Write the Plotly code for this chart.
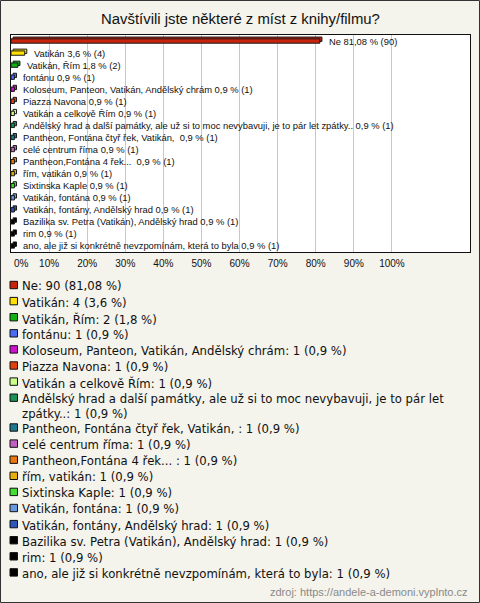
import plotly.graph_objects as go

title = "Navštívili jste některé z míst z knihy/filmu?"
categories = [
    "Ne",
    "Vatikán",
    "Vatikán, Řím",
    "fontánu",
    "Koloseum, Panteon, Vatikán, Andělský chrám",
    "Piazza Navona",
    "Vatikán a celkově Řím",
    "Andělský hrad a další památky, ale už si to moc nevybavuji, je to pár let zpátky..",
    "Pantheon, Fontána čtyř řek, Vatikán, ",
    "celé centrum říma",
    "Pantheon,Fontána 4 řek... ",
    "řím, vatikán",
    "Sixtinska Kaple",
    "Vatikán, fontána",
    "Vatikán, fontány, Andělský hrad",
    "Bazilika sv. Petra (Vatikán), Andělský hrad",
    "rim",
    "ano, ale již si konkrétně nevzpomínám, která to byla",
]
counts = [90, 4, 2] + [1] * 15
percents = [81.08, 3.6, 1.8] + [0.9] * 15
colors = [
    "#C8240C", "#FFE000", "#12B012", "#4A6CF2", "#CC14CC", "#E0400E",
    "#CCFF88", "#189258", "#1E7890", "#C060C0", "#E8780E", "#E8B00E",
    "#44DD33", "#6699DD", "#2E58B8", "#000000", "#000000", "#000000",
]
tick_values = [0, 10, 20, 30, 40, 50, 60, 70, 80, 90, 100]
tick_labels = [f"{v}%" for v in tick_values]
source = "zdroj: https://andele-a-demoni.vyplnto.cz"

W, H = 480, 603
ML, MR, MT, MB = 11, 10, 35, 351
PW, PH = W - ML - MR, H - MT - MB

def fmt(p):
    return str(p).replace(".", ",")

n = len(categories)
ypos = list(range(n))
BW = 0.36

fig = go.Figure()
# depth (3D look): a copy of each bar, nudged up and right, drawn behind
fig.add_trace(go.Bar(
    x=percents, y=ypos, orientation="h", width=BW, base=0.55,
    offset=-BW / 2 - 0.15,
    marker=dict(color=colors, line=dict(color="#1a1a1a", width=1)),
    hoverinfo="skip", showlegend=False,
))
fig.add_trace(go.Bar(
    x=percents, y=ypos, orientation="h", width=BW,
    offset=-BW / 2,
    marker=dict(color=colors, line=dict(color="#1a1a1a", width=1)),
    hoverinfo="skip", showlegend=False,
))

annotations = []
for i, (c, p, k) in enumerate(zip(categories, percents, counts)):
    annotations.append(dict(
        x=p, y=i, xref="x", yref="y", xanchor="left", yanchor="middle",
        xshift=7, showarrow=False,
        text=f"{c} {fmt(p)} % ({k})",
        font=dict(family="Liberation Sans, Arial, sans-serif", size=9.4, color="#111"),
    ))

def px_to_paper_y(py):
    return 1 - (py - MT) / PH

def px_to_paper_x(px):
    return (px - ML) / PW

tick_font = dict(family="Liberation Sans, Arial, sans-serif", size=10, color="#111")
# the first tick label sits just right of the axis start, like the original
annotations.append(dict(
    x=tick_values[0], y=px_to_paper_y(263.5), xref="x", yref="paper",
    xanchor="left", yanchor="middle", xshift=1, showarrow=False,
    text=tick_labels[0], font=tick_font,
))
shown_ticks = [""] + tick_labels[1:]

shapes = []
y = 285.0
step = 16.1
wrap = 13.7
for c, p, k, col in zip(categories, percents, counts, colors):
    label = f"{c}: {k} ({fmt(p)} %)"
    lines = 1
    if len(label) > 70:
        words = label.split(" ")
        first, rest = [], []
        for w_ in words:
            if len(" ".join(first + [w_])) <= 73 and not rest:
                first.append(w_)
            else:
                rest.append(w_)
        label = " ".join(first) + "<br>" + " ".join(rest)
        lines = 2
    shapes.append(dict(
        type="rect", xref="paper", yref="paper",
        x0=px_to_paper_x(10), x1=px_to_paper_x(17.5),
        y0=px_to_paper_y(y - 3.7), y1=px_to_paper_y(y + 3.7),
        fillcolor=col, line=dict(color="#111", width=1),
    ))
    annotations.append(dict(
        x=px_to_paper_x(20), y=px_to_paper_y(y - 7.6), xref="paper", yref="paper",
        xanchor="left", yanchor="top", showarrow=False, align="left",
        text=label,
        font=dict(family="DejaVu Sans, sans-serif", size=11.7, color="#111"),
    ))
    y += step + (wrap if lines == 2 else 0)

annotations.append(dict(
    x=px_to_paper_x(470), y=px_to_paper_y(591.5), xref="paper", yref="paper",
    xanchor="right", yanchor="middle", showarrow=False, text=source,
    font=dict(family="Liberation Sans, Arial, sans-serif", size=11, color="#8a8a8a"),
))
annotations.append(dict(
    x=px_to_paper_x(240), y=px_to_paper_y(19), xref="paper", yref="paper",
    xanchor="center", yanchor="middle", showarrow=False, text=title,
    font=dict(family="Liberation Sans, Arial, sans-serif", size=14.9, color="#111"),
))

shapes.append(dict(
    type="rect", xref="paper", yref="paper",
    x0=px_to_paper_x(0.5), x1=px_to_paper_x(W - 0.5),
    y0=px_to_paper_y(H - 0.5), y1=px_to_paper_y(0.5),
    line=dict(color="#333", width=1), fillcolor="rgba(0,0,0,0)", layer="below",
))

fig.update_layout(
    width=W, height=H,
    margin=dict(l=ML, r=MR, t=MT, b=MB, pad=0),
    paper_bgcolor="#F4F3EC", plot_bgcolor="#FFFFFF",
    showlegend=False, barmode="overlay",
    annotations=annotations, shapes=shapes,
    xaxis=dict(
        range=[0, 120.5], tickvals=tick_values, ticktext=shown_ticks,
        showgrid=True, gridcolor="#C8C8C8", gridwidth=1, zeroline=False,
        showline=True, mirror=True, linecolor="#111", linewidth=1,
        ticks="", ticklabelstandoff=2,
        tickfont=tick_font,
        fixedrange=True,
    ),
    yaxis=dict(
        range=[n - 0.5, -0.5], showticklabels=False, showgrid=False,
        zeroline=False, showline=True, mirror=True, linecolor="#111",
        linewidth=1, ticks="", fixedrange=True,
    ),
)

fig.write_html(
    "out.html",
    config={"displayModeBar": False},
    post_script="document.body.style.margin='0';document.body.style.overflow='hidden';",
)
